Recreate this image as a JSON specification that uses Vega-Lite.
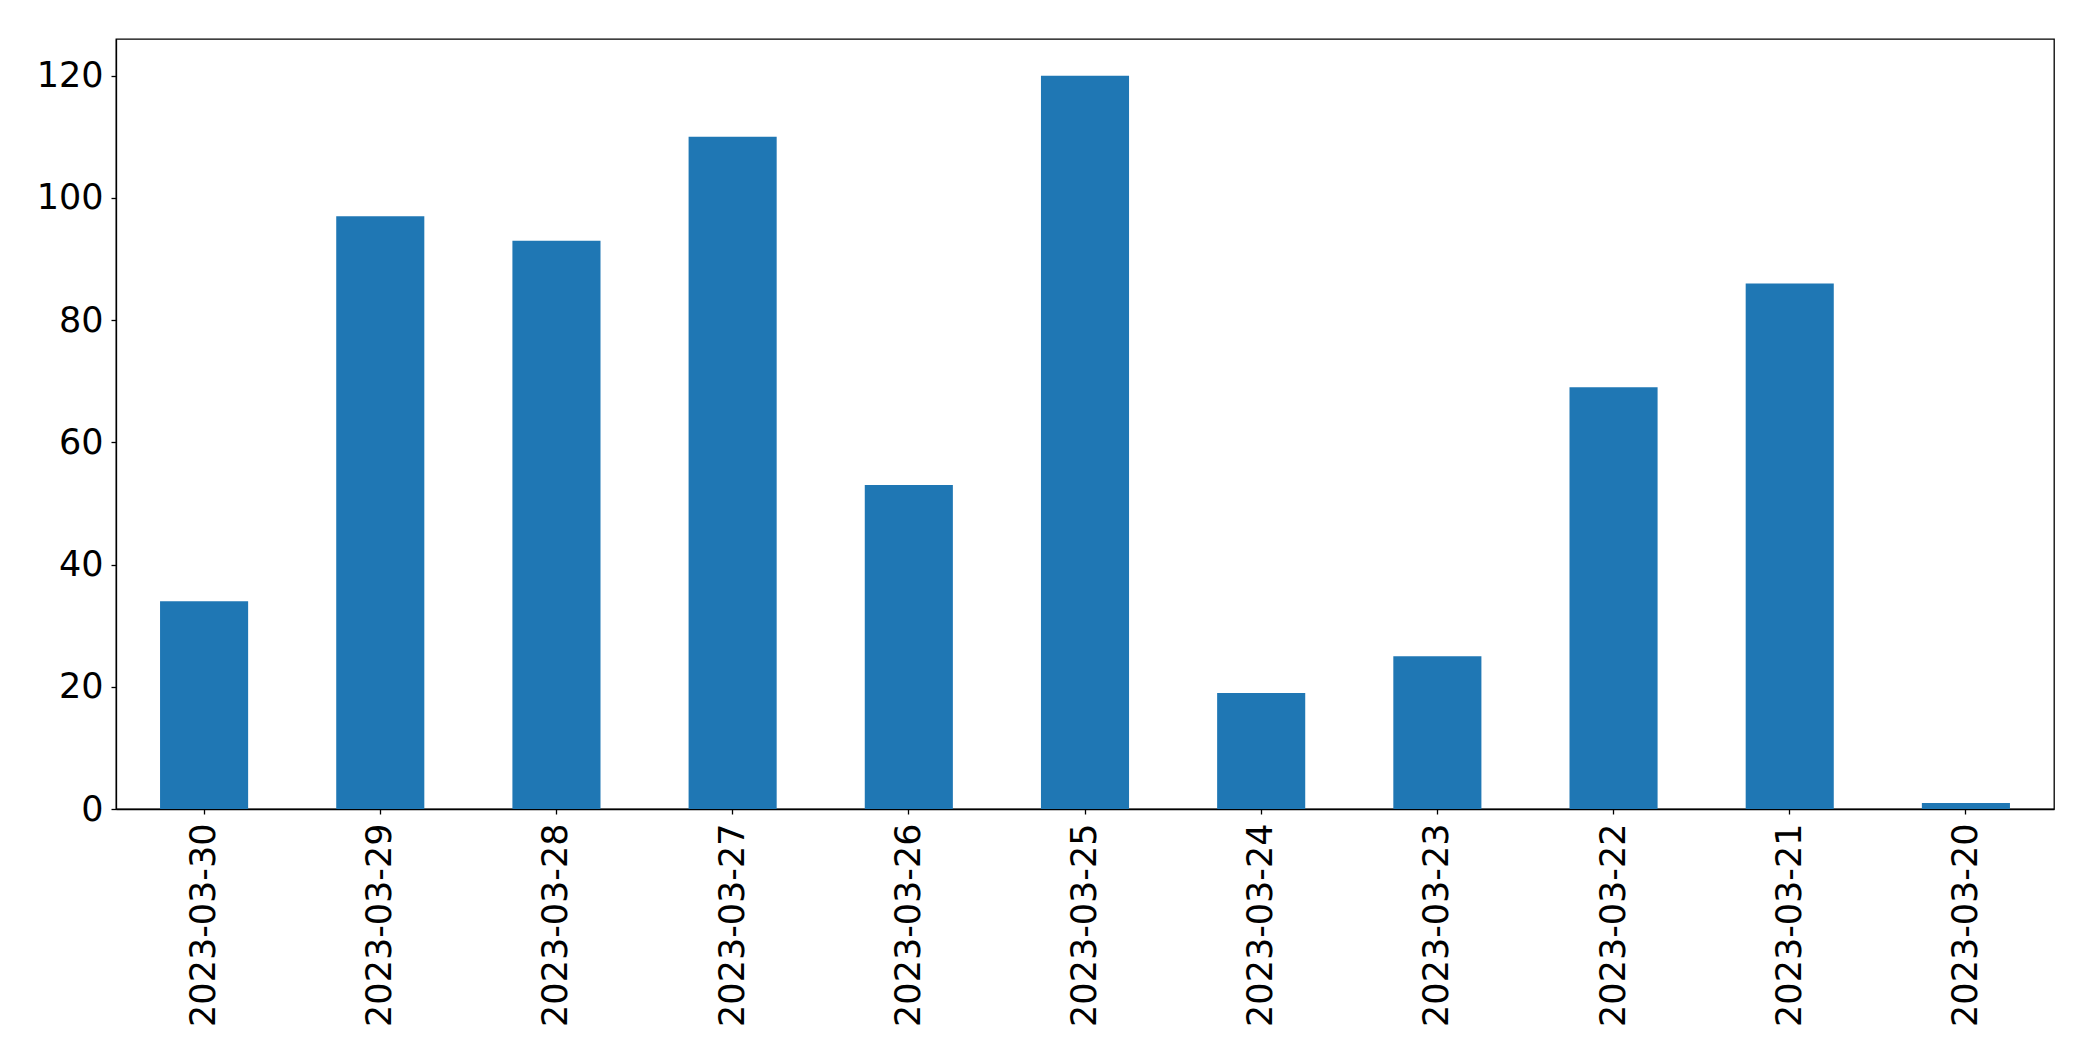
{
  "$schema": "https://vega.github.io/schema/vega-lite/v6.json",
  "autosize": "none",
  "padding": {"left": 116, "top": 39, "right": 39, "bottom": 252},
  "width": 1938,
  "height": 770,
  "background": "white",
  "data": {
    "values": [
      {"date": "2023-03-30", "count": 34},
      {"date": "2023-03-29", "count": 97},
      {"date": "2023-03-28", "count": 93},
      {"date": "2023-03-27", "count": 110},
      {"date": "2023-03-26", "count": 53},
      {"date": "2023-03-25", "count": 120},
      {"date": "2023-03-24", "count": 19},
      {"date": "2023-03-23", "count": 25},
      {"date": "2023-03-22", "count": 69},
      {"date": "2023-03-21", "count": 86},
      {"date": "2023-03-20", "count": 1}
    ]
  },
  "mark": {"type": "bar", "color": "#1f77b4"},
  "encoding": {
    "x": {
      "field": "date",
      "type": "nominal",
      "sort": null,
      "scale": {"paddingInner": 0.5, "paddingOuter": 0.25},
      "axis": {
        "title": null,
        "labelAngle": -90,
        "labelFont": "DejaVu Sans",
        "labelFontSize": 35,
        "labelLimit": 0,
        "labelColor": "black",
        "labelPadding": 9,
        "tickSize": 5,
        "tickColor": "black",
        "domainColor": "black",
        "domainWidth": 1.3,
        "tickWidth": 1.3
      }
    },
    "y": {
      "field": "count",
      "type": "quantitative",
      "scale": {"domain": [0, 126], "nice": false},
      "axis": {
        "title": null,
        "values": [0, 20, 40, 60, 80, 100, 120],
        "grid": false,
        "labelFont": "DejaVu Sans",
        "labelFontSize": 35,
        "labelColor": "black",
        "labelPadding": 8,
        "tickSize": 5,
        "tickColor": "black",
        "domainColor": "black",
        "domainWidth": 1.3,
        "tickWidth": 1.3
      }
    }
  },
  "config": {
    "view": {"stroke": "black", "strokeWidth": 1.3}
  }
}
